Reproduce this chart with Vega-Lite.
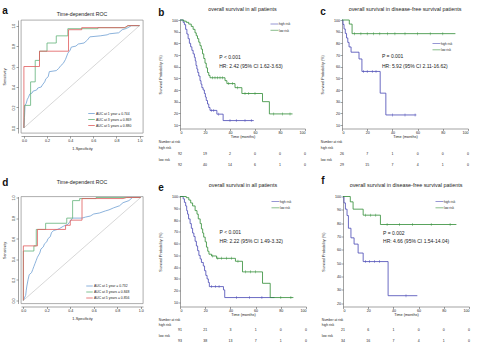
{
  "$schema": "https://vega.github.io/schema/vega-lite/v6.json",
  "background": "white",
  "padding": {"left": 2, "top": 5, "right": 1, "bottom": 0},
  "config": {
    "font": "Liberation Sans",
    "view": {"stroke": null},
    "axis": {"labelFontSize": 3.6, "titleFontSize": 3.8, "titleFontWeight": "normal", "labelColor": "#222", "titleColor": "#222", "domainColor": "#444", "tickColor": "#444", "domainWidth": 0.5, "tickWidth": 0.5, "tickSize": 2, "labelPadding": 0.5, "grid": false},
    "title": {"fontSize": 5.4, "fontWeight": "normal", "color": "#222"},
    "legend": {"labelFontSize": 3, "labelColor": "#222", "symbolStrokeWidth": 0.8, "rowPadding": 1.3, "padding": 0, "labelOffset": 2, "labelLimit": 0},
    "text": {"color": "#222"}
  },
  "datasets": {
    "km": [
      {"panel":"b","group":"high risk","t":0,"s":100},{"panel":"b","group":"high risk","t":2.5,"s":98},{"panel":"b","group":"high risk","t":3.5,"s":96},{"panel":"b","group":"high risk","t":4.5,"s":92},{"panel":"b","group":"high risk","t":5.5,"s":88},{"panel":"b","group":"high risk","t":6.5,"s":84},{"panel":"b","group":"high risk","t":7.5,"s":80},{"panel":"b","group":"high risk","t":8.5,"s":77},{"panel":"b","group":"high risk","t":9.5,"s":74},{"panel":"b","group":"high risk","t":10.5,"s":71},{"panel":"b","group":"high risk","t":11.5,"s":68},{"panel":"b","group":"high risk","t":12.2,"s":65},{"panel":"b","group":"high risk","t":12.8,"s":61},{"panel":"b","group":"high risk","t":13.5,"s":58},{"panel":"b","group":"high risk","t":14.2,"s":55},{"panel":"b","group":"high risk","t":15,"s":52},{"panel":"b","group":"high risk","t":16,"s":48},{"panel":"b","group":"high risk","t":16.8,"s":45},{"panel":"b","group":"high risk","t":17.5,"s":42},{"panel":"b","group":"high risk","t":18.5,"s":40},{"panel":"b","group":"high risk","t":19.5,"s":37},{"panel":"b","group":"high risk","t":20.3,"s":34},{"panel":"b","group":"high risk","t":21,"s":31},{"panel":"b","group":"high risk","t":22,"s":28},{"panel":"b","group":"high risk","t":23,"s":25},{"panel":"b","group":"high risk","t":24,"s":22.5},{"panel":"b","group":"high risk","t":29.5,"s":19.3},{"panel":"b","group":"high risk","t":34.5,"s":13.8},{"panel":"b","group":"high risk","t":59,"s":13.8},
      {"panel":"b","group":"low risk","t":0,"s":100},{"panel":"b","group":"low risk","t":3,"s":99},{"panel":"b","group":"low risk","t":5,"s":98},{"panel":"b","group":"low risk","t":7,"s":96.5},{"panel":"b","group":"low risk","t":9,"s":94.5},{"panel":"b","group":"low risk","t":10.5,"s":92},{"panel":"b","group":"low risk","t":12,"s":89},{"panel":"b","group":"low risk","t":13,"s":86.5},{"panel":"b","group":"low risk","t":14,"s":84},{"panel":"b","group":"low risk","t":15,"s":81},{"panel":"b","group":"low risk","t":16,"s":78},{"panel":"b","group":"low risk","t":17,"s":75},{"panel":"b","group":"low risk","t":18,"s":71},{"panel":"b","group":"low risk","t":19,"s":67},{"panel":"b","group":"low risk","t":20,"s":63},{"panel":"b","group":"low risk","t":21,"s":59},{"panel":"b","group":"low risk","t":22,"s":55},{"panel":"b","group":"low risk","t":23,"s":52.5},{"panel":"b","group":"low risk","t":24,"s":50.5},{"panel":"b","group":"low risk","t":36,"s":48},{"panel":"b","group":"low risk","t":37.5,"s":45.5},{"panel":"b","group":"low risk","t":44,"s":42},{"panel":"b","group":"low risk","t":49.5,"s":37},{"panel":"b","group":"low risk","t":66,"s":30},{"panel":"b","group":"low risk","t":71.5,"s":19.5},{"panel":"b","group":"low risk","t":90,"s":19.5},
      {"panel":"c","group":"high risk","t":0,"s":100},{"panel":"c","group":"high risk","t":0.8,"s":96.2},{"panel":"c","group":"high risk","t":1.6,"s":92.3},{"panel":"c","group":"high risk","t":2.6,"s":88.5},{"panel":"c","group":"high risk","t":3.6,"s":84.6},{"panel":"c","group":"high risk","t":4.6,"s":80.8},{"panel":"c","group":"high risk","t":5.6,"s":76.9},{"panel":"c","group":"high risk","t":7.2,"s":72.4},{"panel":"c","group":"high risk","t":13.5,"s":66.6},{"panel":"c","group":"high risk","t":15.8,"s":55.9},{"panel":"c","group":"high risk","t":30.3,"s":37.3},{"panel":"c","group":"high risk","t":34.8,"s":18.6},{"panel":"c","group":"high risk","t":59,"s":18.6},
      {"panel":"c","group":"low risk","t":0,"s":100},{"panel":"c","group":"low risk","t":5.8,"s":96.5},{"panel":"c","group":"low risk","t":8,"s":88.3},{"panel":"c","group":"low risk","t":90,"s":88.3},
      {"panel":"e","group":"high risk","t":0,"s":100},{"panel":"e","group":"high risk","t":2.5,"s":98},{"panel":"e","group":"high risk","t":3.5,"s":95},{"panel":"e","group":"high risk","t":4.5,"s":92},{"panel":"e","group":"high risk","t":5.3,"s":88},{"panel":"e","group":"high risk","t":6,"s":85},{"panel":"e","group":"high risk","t":6.8,"s":81},{"panel":"e","group":"high risk","t":8,"s":77},{"panel":"e","group":"high risk","t":9,"s":73},{"panel":"e","group":"high risk","t":10,"s":69},{"panel":"e","group":"high risk","t":11,"s":66},{"panel":"e","group":"high risk","t":12,"s":62},{"panel":"e","group":"high risk","t":13,"s":58},{"panel":"e","group":"high risk","t":14,"s":54},{"panel":"e","group":"high risk","t":15,"s":50},{"panel":"e","group":"high risk","t":16,"s":47},{"panel":"e","group":"high risk","t":17,"s":44},{"panel":"e","group":"high risk","t":18.5,"s":41},{"panel":"e","group":"high risk","t":19.5,"s":37},{"panel":"e","group":"high risk","t":20.5,"s":33},{"panel":"e","group":"high risk","t":21.5,"s":30},{"panel":"e","group":"high risk","t":22.5,"s":27},{"panel":"e","group":"high risk","t":23.3,"s":23.5},{"panel":"e","group":"high risk","t":34.5,"s":20.7},{"panel":"e","group":"high risk","t":35.5,"s":14.2},{"panel":"e","group":"high risk","t":75,"s":14.2},
      {"panel":"e","group":"low risk","t":0,"s":100},{"panel":"e","group":"low risk","t":5,"s":99},{"panel":"e","group":"low risk","t":7,"s":97},{"panel":"e","group":"low risk","t":8.5,"s":94.5},{"panel":"e","group":"low risk","t":10,"s":92},{"panel":"e","group":"low risk","t":12,"s":88},{"panel":"e","group":"low risk","t":13.5,"s":85},{"panel":"e","group":"low risk","t":14.5,"s":81},{"panel":"e","group":"low risk","t":16,"s":77},{"panel":"e","group":"low risk","t":17,"s":72.5},{"panel":"e","group":"low risk","t":18,"s":69},{"panel":"e","group":"low risk","t":18.8,"s":65.5},{"panel":"e","group":"low risk","t":20,"s":61.5},{"panel":"e","group":"low risk","t":21,"s":57},{"panel":"e","group":"low risk","t":22,"s":53.5},{"panel":"e","group":"low risk","t":23,"s":51},{"panel":"e","group":"low risk","t":25,"s":49.5},{"panel":"e","group":"low risk","t":29,"s":47.5},{"panel":"e","group":"low risk","t":44,"s":45},{"panel":"e","group":"low risk","t":49.6,"s":36},{"panel":"e","group":"low risk","t":65.5,"s":26.3},{"panel":"e","group":"low risk","t":71.6,"s":14.2},{"panel":"e","group":"low risk","t":90,"s":14.2},
      {"panel":"f","group":"high risk","t":0,"s":100},{"panel":"f","group":"high risk","t":0.8,"s":95.2},{"panel":"f","group":"high risk","t":1.9,"s":90.5},{"panel":"f","group":"high risk","t":3.2,"s":85.7},{"panel":"f","group":"high risk","t":4.3,"s":76.2},{"panel":"f","group":"high risk","t":6.3,"s":69},{"panel":"f","group":"high risk","t":8.8,"s":64.3},{"panel":"f","group":"high risk","t":12,"s":57.6},{"panel":"f","group":"high risk","t":16,"s":51.2},{"panel":"f","group":"high risk","t":35.8,"s":25.6},{"panel":"f","group":"high risk","t":59,"s":25.6},
      {"panel":"f","group":"low risk","t":0,"s":100},{"panel":"f","group":"low risk","t":5.8,"s":96},{"panel":"f","group":"low risk","t":8,"s":90.5},{"panel":"f","group":"low risk","t":16,"s":86},{"panel":"f","group":"low risk","t":29.7,"s":79},{"panel":"f","group":"low risk","t":90,"s":79}
    ],
    "censor": [
      {"panel":"b","group":"high risk","t":25,"s":22.5},{"panel":"b","group":"high risk","t":27,"s":22.5},{"panel":"b","group":"high risk","t":31,"s":19.3},{"panel":"b","group":"high risk","t":40,"s":13.8},{"panel":"b","group":"high risk","t":45,"s":13.8},{"panel":"b","group":"high risk","t":52,"s":13.8},{"panel":"b","group":"high risk","t":57,"s":13.8},
      {"panel":"b","group":"low risk","t":26,"s":50.5},{"panel":"b","group":"low risk","t":28,"s":50.5},{"panel":"b","group":"low risk","t":30,"s":50.5},{"panel":"b","group":"low risk","t":32,"s":50.5},{"panel":"b","group":"low risk","t":34,"s":50.5},{"panel":"b","group":"low risk","t":39,"s":45.5},{"panel":"b","group":"low risk","t":42,"s":45.5},{"panel":"b","group":"low risk","t":46,"s":42},{"panel":"b","group":"low risk","t":52,"s":37},{"panel":"b","group":"low risk","t":55,"s":37},{"panel":"b","group":"low risk","t":60,"s":37},{"panel":"b","group":"low risk","t":75,"s":19.5},{"panel":"b","group":"low risk","t":82,"s":19.5},{"panel":"b","group":"low risk","t":88,"s":19.5},
      {"panel":"c","group":"high risk","t":17,"s":55.9},{"panel":"c","group":"high risk","t":20,"s":55.9},{"panel":"c","group":"high risk","t":24,"s":55.9},{"panel":"c","group":"high risk","t":27,"s":55.9},{"panel":"c","group":"high risk","t":40,"s":18.6},{"panel":"c","group":"high risk","t":50,"s":18.6},{"panel":"c","group":"high risk","t":58,"s":18.6},
      {"panel":"c","group":"low risk","t":10,"s":88.3},{"panel":"c","group":"low risk","t":15,"s":88.3},{"panel":"c","group":"low risk","t":20,"s":88.3},{"panel":"c","group":"low risk","t":25,"s":88.3},{"panel":"c","group":"low risk","t":30,"s":88.3},{"panel":"c","group":"low risk","t":36,"s":88.3},{"panel":"c","group":"low risk","t":42,"s":88.3},{"panel":"c","group":"low risk","t":50,"s":88.3},{"panel":"c","group":"low risk","t":60,"s":88.3},{"panel":"c","group":"low risk","t":70,"s":88.3},{"panel":"c","group":"low risk","t":80,"s":88.3},
      {"panel":"e","group":"high risk","t":25,"s":23.5},{"panel":"e","group":"high risk","t":28,"s":23.5},{"panel":"e","group":"high risk","t":31,"s":23.5},{"panel":"e","group":"high risk","t":45,"s":14.2},{"panel":"e","group":"high risk","t":55,"s":14.2},{"panel":"e","group":"high risk","t":65,"s":14.2},
      {"panel":"e","group":"low risk","t":26,"s":49.5},{"panel":"e","group":"low risk","t":30,"s":47.5},{"panel":"e","group":"low risk","t":33,"s":47.5},{"panel":"e","group":"low risk","t":37,"s":47.5},{"panel":"e","group":"low risk","t":41,"s":47.5},{"panel":"e","group":"low risk","t":46,"s":45},{"panel":"e","group":"low risk","t":52,"s":36},{"panel":"e","group":"low risk","t":56,"s":36},{"panel":"e","group":"low risk","t":60,"s":36},{"panel":"e","group":"low risk","t":80,"s":14.2},{"panel":"e","group":"low risk","t":88,"s":14.2},
      {"panel":"f","group":"high risk","t":18,"s":51.2},{"panel":"f","group":"high risk","t":21,"s":51.2},{"panel":"f","group":"high risk","t":25,"s":51.2},{"panel":"f","group":"high risk","t":29,"s":51.2},{"panel":"f","group":"high risk","t":50,"s":25.6},
      {"panel":"f","group":"low risk","t":18,"s":86},{"panel":"f","group":"low risk","t":22,"s":86},{"panel":"f","group":"low risk","t":26,"s":86},{"panel":"f","group":"low risk","t":35,"s":79},{"panel":"f","group":"low risk","t":45,"s":79},{"panel":"f","group":"low risk","t":55,"s":79},{"panel":"f","group":"low risk","t":70,"s":79},{"panel":"f","group":"low risk","t":85,"s":79}
    ],
    "roc": [
      {"panel":"a","year":1,"fpr":0,"tpr":0},{"panel":"a","year":1,"fpr":0.005,"tpr":0.1},{"panel":"a","year":1,"fpr":0.01,"tpr":0.22},{"panel":"a","year":1,"fpr":0.02,"tpr":0.24},{"panel":"a","year":1,"fpr":0.03,"tpr":0.28},{"panel":"a","year":1,"fpr":0.04,"tpr":0.3},{"panel":"a","year":1,"fpr":0.05,"tpr":0.33},{"panel":"a","year":1,"fpr":0.07,"tpr":0.34},{"panel":"a","year":1,"fpr":0.08,"tpr":0.36},{"panel":"a","year":1,"fpr":0.11,"tpr":0.37},{"panel":"a","year":1,"fpr":0.12,"tpr":0.39},{"panel":"a","year":1,"fpr":0.15,"tpr":0.4},{"panel":"a","year":1,"fpr":0.16,"tpr":0.42},{"panel":"a","year":1,"fpr":0.18,"tpr":0.45},{"panel":"a","year":1,"fpr":0.19,"tpr":0.48},{"panel":"a","year":1,"fpr":0.21,"tpr":0.5},{"panel":"a","year":1,"fpr":0.22,"tpr":0.55},{"panel":"a","year":1,"fpr":0.28,"tpr":0.56},{"panel":"a","year":1,"fpr":0.3,"tpr":0.58},{"panel":"a","year":1,"fpr":0.32,"tpr":0.61},{"panel":"a","year":1,"fpr":0.34,"tpr":0.63},{"panel":"a","year":1,"fpr":0.36,"tpr":0.67},{"panel":"a","year":1,"fpr":0.38,"tpr":0.73},{"panel":"a","year":1,"fpr":0.4,"tpr":0.76},{"panel":"a","year":1,"fpr":0.41,"tpr":0.79},{"panel":"a","year":1,"fpr":0.45,"tpr":0.8},{"panel":"a","year":1,"fpr":0.47,"tpr":0.82},{"panel":"a","year":1,"fpr":0.52,"tpr":0.83},{"panel":"a","year":1,"fpr":0.55,"tpr":0.86},{"panel":"a","year":1,"fpr":0.57,"tpr":0.89},{"panel":"a","year":1,"fpr":0.66,"tpr":0.9},{"panel":"a","year":1,"fpr":0.72,"tpr":0.91},{"panel":"a","year":1,"fpr":0.74,"tpr":0.92},{"panel":"a","year":1,"fpr":0.82,"tpr":0.93},{"panel":"a","year":1,"fpr":0.85,"tpr":0.96},{"panel":"a","year":1,"fpr":0.88,"tpr":0.97},{"panel":"a","year":1,"fpr":0.9,"tpr":0.98},{"panel":"a","year":1,"fpr":0.93,"tpr":1},{"panel":"a","year":1,"fpr":1,"tpr":1},
      {"panel":"a","year":3,"fpr":0,"tpr":0},{"panel":"a","year":3,"fpr":0.005,"tpr":0.22},{"panel":"a","year":3,"fpr":0.058,"tpr":0.22},{"panel":"a","year":3,"fpr":0.058,"tpr":0.45},{"panel":"a","year":3,"fpr":0.098,"tpr":0.45},{"panel":"a","year":3,"fpr":0.098,"tpr":0.66},{"panel":"a","year":3,"fpr":0.135,"tpr":0.66},{"panel":"a","year":3,"fpr":0.135,"tpr":0.75},{"panel":"a","year":3,"fpr":0.2,"tpr":0.75},{"panel":"a","year":3,"fpr":0.2,"tpr":0.83},{"panel":"a","year":3,"fpr":0.28,"tpr":0.83},{"panel":"a","year":3,"fpr":0.28,"tpr":0.9},{"panel":"a","year":3,"fpr":0.38,"tpr":0.9},{"panel":"a","year":3,"fpr":0.38,"tpr":0.97},{"panel":"a","year":3,"fpr":0.64,"tpr":0.97},{"panel":"a","year":3,"fpr":0.64,"tpr":0.98},{"panel":"a","year":3,"fpr":0.88,"tpr":0.98},{"panel":"a","year":3,"fpr":0.9,"tpr":1},{"panel":"a","year":3,"fpr":1,"tpr":1},
      {"panel":"a","year":5,"fpr":0,"tpr":0},{"panel":"a","year":5,"fpr":0,"tpr":0.6},{"panel":"a","year":5,"fpr":0.135,"tpr":0.6},{"panel":"a","year":5,"fpr":0.135,"tpr":0.75},{"panel":"a","year":5,"fpr":0.386,"tpr":0.75},{"panel":"a","year":5,"fpr":0.386,"tpr":0.96},{"panel":"a","year":5,"fpr":0.5,"tpr":0.96},{"panel":"a","year":5,"fpr":0.5,"tpr":0.98},{"panel":"a","year":5,"fpr":0.87,"tpr":0.98},{"panel":"a","year":5,"fpr":0.9,"tpr":1},{"panel":"a","year":5,"fpr":1,"tpr":1},
      {"panel":"d","year":1,"fpr":0,"tpr":0},{"panel":"d","year":1,"fpr":0.02,"tpr":0.05},{"panel":"d","year":1,"fpr":0.025,"tpr":0.1},{"panel":"d","year":1,"fpr":0.03,"tpr":0.14},{"panel":"d","year":1,"fpr":0.04,"tpr":0.2},{"panel":"d","year":1,"fpr":0.05,"tpr":0.25},{"panel":"d","year":1,"fpr":0.07,"tpr":0.27},{"panel":"d","year":1,"fpr":0.08,"tpr":0.3},{"panel":"d","year":1,"fpr":0.09,"tpr":0.33},{"panel":"d","year":1,"fpr":0.1,"tpr":0.36},{"panel":"d","year":1,"fpr":0.11,"tpr":0.39},{"panel":"d","year":1,"fpr":0.12,"tpr":0.42},{"panel":"d","year":1,"fpr":0.14,"tpr":0.46},{"panel":"d","year":1,"fpr":0.15,"tpr":0.5},{"panel":"d","year":1,"fpr":0.17,"tpr":0.52},{"panel":"d","year":1,"fpr":0.18,"tpr":0.55},{"panel":"d","year":1,"fpr":0.2,"tpr":0.57},{"panel":"d","year":1,"fpr":0.21,"tpr":0.6},{"panel":"d","year":1,"fpr":0.23,"tpr":0.62},{"panel":"d","year":1,"fpr":0.24,"tpr":0.66},{"panel":"d","year":1,"fpr":0.26,"tpr":0.68},{"panel":"d","year":1,"fpr":0.29,"tpr":0.69},{"panel":"d","year":1,"fpr":0.31,"tpr":0.7},{"panel":"d","year":1,"fpr":0.34,"tpr":0.72},{"panel":"d","year":1,"fpr":0.38,"tpr":0.74},{"panel":"d","year":1,"fpr":0.4,"tpr":0.77},{"panel":"d","year":1,"fpr":0.42,"tpr":0.8},{"panel":"d","year":1,"fpr":0.5,"tpr":0.8},{"panel":"d","year":1,"fpr":0.53,"tpr":0.81},{"panel":"d","year":1,"fpr":0.57,"tpr":0.82},{"panel":"d","year":1,"fpr":0.6,"tpr":0.84},{"panel":"d","year":1,"fpr":0.65,"tpr":0.85},{"panel":"d","year":1,"fpr":0.7,"tpr":0.87},{"panel":"d","year":1,"fpr":0.73,"tpr":0.88},{"panel":"d","year":1,"fpr":0.77,"tpr":0.9},{"panel":"d","year":1,"fpr":0.82,"tpr":0.92},{"panel":"d","year":1,"fpr":0.85,"tpr":0.95},{"panel":"d","year":1,"fpr":0.9,"tpr":0.97},{"panel":"d","year":1,"fpr":0.93,"tpr":1},{"panel":"d","year":1,"fpr":1,"tpr":1},
      {"panel":"d","year":3,"fpr":0,"tpr":0},{"panel":"d","year":3,"fpr":0,"tpr":0.48},{"panel":"d","year":3,"fpr":0.09,"tpr":0.48},{"panel":"d","year":3,"fpr":0.09,"tpr":0.53},{"panel":"d","year":3,"fpr":0.11,"tpr":0.53},{"panel":"d","year":3,"fpr":0.11,"tpr":0.69},{"panel":"d","year":3,"fpr":0.19,"tpr":0.69},{"panel":"d","year":3,"fpr":0.19,"tpr":0.75},{"panel":"d","year":3,"fpr":0.37,"tpr":0.75},{"panel":"d","year":3,"fpr":0.37,"tpr":0.8},{"panel":"d","year":3,"fpr":0.42,"tpr":0.8},{"panel":"d","year":3,"fpr":0.42,"tpr":0.97},{"panel":"d","year":3,"fpr":0.48,"tpr":0.97},{"panel":"d","year":3,"fpr":0.48,"tpr":0.99},{"panel":"d","year":3,"fpr":0.62,"tpr":0.99},{"panel":"d","year":3,"fpr":0.62,"tpr":1},{"panel":"d","year":3,"fpr":1,"tpr":1},
      {"panel":"d","year":5,"fpr":0,"tpr":0},{"panel":"d","year":5,"fpr":0,"tpr":0.53},{"panel":"d","year":5,"fpr":0.12,"tpr":0.53},{"panel":"d","year":5,"fpr":0.12,"tpr":0.69},{"panel":"d","year":5,"fpr":0.36,"tpr":0.69},{"panel":"d","year":5,"fpr":0.36,"tpr":0.73},{"panel":"d","year":5,"fpr":0.4,"tpr":0.73},{"panel":"d","year":5,"fpr":0.4,"tpr":0.78},{"panel":"d","year":5,"fpr":0.5,"tpr":0.78},{"panel":"d","year":5,"fpr":0.5,"tpr":0.99},{"panel":"d","year":5,"fpr":0.85,"tpr":0.99},{"panel":"d","year":5,"fpr":0.88,"tpr":1},{"panel":"d","year":5,"fpr":1,"tpr":1}
    ],
    "risk": [
      {"panel":"b","group":"high risk","t":0,"n":92},{"panel":"b","group":"high risk","t":20,"n":19},{"panel":"b","group":"high risk","t":40,"n":2},{"panel":"b","group":"high risk","t":60,"n":0},{"panel":"b","group":"high risk","t":80,"n":0},{"panel":"b","group":"high risk","t":100,"n":0},
      {"panel":"b","group":"low risk","t":0,"n":92},{"panel":"b","group":"low risk","t":20,"n":40},{"panel":"b","group":"low risk","t":40,"n":14},{"panel":"b","group":"low risk","t":60,"n":6},{"panel":"b","group":"low risk","t":80,"n":1},{"panel":"b","group":"low risk","t":100,"n":0},
      {"panel":"c","group":"high risk","t":0,"n":26},{"panel":"c","group":"high risk","t":20,"n":7},{"panel":"c","group":"high risk","t":40,"n":1},{"panel":"c","group":"high risk","t":60,"n":0},{"panel":"c","group":"high risk","t":80,"n":0},{"panel":"c","group":"high risk","t":100,"n":0},
      {"panel":"c","group":"low risk","t":0,"n":29},{"panel":"c","group":"low risk","t":20,"n":15},{"panel":"c","group":"low risk","t":40,"n":7},{"panel":"c","group":"low risk","t":60,"n":4},{"panel":"c","group":"low risk","t":80,"n":1},{"panel":"c","group":"low risk","t":100,"n":0},
      {"panel":"e","group":"high risk","t":0,"n":91},{"panel":"e","group":"high risk","t":20,"n":21},{"panel":"e","group":"high risk","t":40,"n":3},{"panel":"e","group":"high risk","t":60,"n":1},{"panel":"e","group":"high risk","t":80,"n":0},{"panel":"e","group":"high risk","t":100,"n":0},
      {"panel":"e","group":"low risk","t":0,"n":93},{"panel":"e","group":"low risk","t":20,"n":38},{"panel":"e","group":"low risk","t":40,"n":13},{"panel":"e","group":"low risk","t":60,"n":7},{"panel":"e","group":"low risk","t":80,"n":1},{"panel":"e","group":"low risk","t":100,"n":0},
      {"panel":"f","group":"high risk","t":0,"n":21},{"panel":"f","group":"high risk","t":20,"n":6},{"panel":"f","group":"high risk","t":40,"n":1},{"panel":"f","group":"high risk","t":60,"n":0},{"panel":"f","group":"high risk","t":80,"n":0},{"panel":"f","group":"high risk","t":100,"n":0},
      {"panel":"f","group":"low risk","t":0,"n":34},{"panel":"f","group":"low risk","t":20,"n":16},{"panel":"f","group":"low risk","t":40,"n":7},{"panel":"f","group":"low risk","t":60,"n":4},{"panel":"f","group":"low risk","t":80,"n":1},{"panel":"f","group":"low risk","t":100,"n":0}
    ]
  },
  "resolve": {"scale": {"color": "independent"}, "legend": {"color": "independent"}},
  "spacing": 7.5,
  "vconcat": [
    {
      "spacing": 14,
      "resolve": {"scale": {"color": "independent"}, "legend": {"color": "independent"}},
      "hconcat": [
        {
          "title": {"text": "a", "anchor": "start", "fontSize": 10, "fontWeight": "bold", "color": "#111", "offset": -4.3},
          "vconcat": [
            {
              "width": 122, "height": 113,
              "title": {"text": "Time-dependent ROC", "fontSize": 5.2, "offset": 3.3},
              "view": {"stroke": "#777", "strokeWidth": 0.6},
              "encoding": {
                "x": {"field": "fpr", "type": "quantitative", "scale": {"domain": [-0.025, 1.03], "nice": false, "zero": false}, "axis": {"title": "1-Specificity", "values": [0, 0.2, 0.4, 0.6, 0.8, 1], "format": ".1f", "offset": 3, "labelPadding": 0, "titlePadding": 4.5}},
                "y": {"field": "tpr", "type": "quantitative", "scale": {"domain": [-0.05, 1.055], "nice": false, "zero": false}, "axis": {"title": "Sensitivity", "values": [0, 0.2, 0.4, 0.6, 0.8, 1], "format": ".1f", "offset": 3, "labelAngle": 270, "labelPadding": 0.5, "titlePadding": 5}}
              },
              "layer": [
                {"data": {"values": [{"fpr": 0, "tpr": 0}, {"fpr": 1, "tpr": 1}]}, "mark": {"type": "line", "color": "#9a9a9a", "strokeWidth": 0.4}, "encoding": {}},
                {
                  "data": {"name": "roc"}, "transform": [{"filter": "datum.panel == 'a'"}],
                  "mark": {"type": "line", "strokeWidth": 0.8},
                  "encoding": {
                    "color": {"field": "year", "type": "nominal", "scale": {"domain": [1, 3, 5], "range": ["#6f9fd3", "#62b27a", "#e05a5c"]},
                      "legend": {"title": null, "orient": "none", "legendX": 68, "legendY": 91, "symbolType": "M-2,0H2", "symbolSize": 10.6, "labelFontSize": 3.4, "rowPadding": 1, "labelExpr": "datum.value == 1 ? 'AUC at 1 year = 0.744' : datum.value == 3 ? 'AUC at 3 years = 0.869' : 'AUC at 5 years = 0.880'"}},
                    "order": {"value": null}
                  }
                }
              ]
            }
          ]
        },
        {
          "title": {"text": "b", "anchor": "start", "fontSize": 10, "fontWeight": "bold", "color": "#111", "offset": -10.5},
          "spacing": 0,
          "vconcat": [
            {
              "width": 125, "height": 108.5,
              "title": {"text": "overall survival in all patients", "offset": 5.5},
              "layer": [
                {
                  "data": {"name": "km"}, "transform": [{"filter": "datum.panel == 'b'"}],
                  "mark": {"type": "line", "interpolate": "step-after", "strokeWidth": 0.8},
                  "encoding": {
                    "x": {"field": "t", "type": "quantitative", "scale": {"domain": [0, 100], "nice": false}, "axis": {"title": "Time (months)", "values": [0, 20, 40, 60, 80, 100], "labelPadding": 0, "titlePadding": 0.3}},
                    "y": {"field": "s", "type": "quantitative", "scale": {"domain": [7, 100], "nice": false, "zero": false}, "axis": {"title": "Survival Probability (%)", "values": [10, 20, 30, 40, 50, 60, 70, 80, 90, 100], "titlePadding": 9}},
                    "color": {"field": "group", "type": "nominal", "scale": {"domain": ["high risk", "low risk"], "range": ["#4646b4", "#2e8b34"]}, "legend": {"title": null, "orient": "none", "legendX": 92, "legendY": 1.5, "symbolType": "M-2,0H2", "symbolSize": 16}}
                  }
                },
                {
                  "data": {"name": "censor"}, "transform": [{"filter": "datum.panel == 'b'"}],
                  "mark": {"type": "tick", "orient": "vertical", "size": 3, "thickness": 0.6},
                  "encoding": {
                    "x": {"field": "t", "type": "quantitative", "scale": {"domain": [0, 100], "nice": false}, "axis": {"title": "Time (months)", "values": [0, 20, 40, 60, 80, 100], "labelPadding": 0, "titlePadding": 0.3}},
                    "y": {"field": "s", "type": "quantitative", "scale": {"domain": [7, 100], "nice": false, "zero": false}, "axis": {"title": "Survival Probability (%)", "values": [10, 20, 30, 40, 50, 60, 70, 80, 90, 100], "titlePadding": 9}},
                    "color": {"field": "group", "type": "nominal"}
                  }
                },
                {"data": {"values": [{}]}, "mark": {"type": "text", "align": "left", "baseline": "middle", "fontSize": 5},
                  "encoding": {
                    "x": {"datum": 31.4, "type": "quantitative", "scale": {"domain": [0, 100], "nice": false}, "axis": {"title": "Time (months)", "values": [0, 20, 40, 60, 80, 100], "labelPadding": 0, "titlePadding": 0.3}},
                    "y": {"datum": 68.6, "type": "quantitative", "scale": {"domain": [7, 100], "nice": false, "zero": false}, "axis": {"title": "Survival Probability (%)", "values": [10, 20, 30, 40, 50, 60, 70, 80, 90, 100], "titlePadding": 9}},
                    "text": {"value": "P < 0.001"}}},
                {"data": {"values": [{}]}, "mark": {"type": "text", "align": "left", "baseline": "middle", "fontSize": 5},
                  "encoding": {
                    "x": {"datum": 31.4, "type": "quantitative", "scale": {"domain": [0, 100], "nice": false}, "axis": {"title": "Time (months)", "values": [0, 20, 40, 60, 80, 100], "labelPadding": 0, "titlePadding": 0.3}},
                    "y": {"datum": 60.8, "type": "quantitative", "scale": {"domain": [7, 100], "nice": false, "zero": false}, "axis": {"title": "Survival Probability (%)", "values": [10, 20, 30, 40, 50, 60, 70, 80, 90, 100], "titlePadding": 9}},
                    "text": {"value": "HR: 2.42 (95% CI 1.62-3.63)"}}}
              ]
            },
            {
              "width": 125, "height": 29,
              "data": {"name": "risk"}, "transform": [{"filter": "datum.panel == 'b'"}],
              "mark": {"type": "text", "fontSize": 3.5, "baseline": "middle"},
              "encoding": {
                "x": {"field": "t", "type": "quantitative", "scale": {"domain": [0, 100], "nice": false}, "axis": null},
                "y": {"field": "group", "type": "ordinal", "scale": {"domain": ["Number at risk", "high risk ", "high risk", "low risk ", "low risk"], "padding": 0.5}, "axis": {"title": null, "domain": false, "ticks": false, "labelAlign": "left", "labelPadding": 21.7, "labelFontSize": 3.3, "labelExpr": "datum.value == 'high risk' || datum.value == 'low risk' ? '' : datum.value"}},
                "text": {"field": "n", "type": "quantitative"}
              }
            }
          ]
        },
        {
          "title": {"text": "c", "anchor": "start", "fontSize": 10, "fontWeight": "bold", "color": "#111", "offset": -9.7},
          "spacing": 0,
          "vconcat": [
            {
              "width": 126, "height": 108.5,
              "title": {"text": "overall survival in disease-free survival patients", "offset": 5.5},
              "layer": [
                {
                  "data": {"name": "km"}, "transform": [{"filter": "datum.panel == 'c'"}],
                  "mark": {"type": "line", "interpolate": "step-after", "strokeWidth": 0.8},
                  "encoding": {
                    "x": {"field": "t", "type": "quantitative", "scale": {"domain": [0, 100], "nice": false}, "axis": {"title": "Time (months)", "values": [0, 20, 40, 60, 80, 100], "labelPadding": 0, "titlePadding": 0.3}},
                    "y": {"field": "s", "type": "quantitative", "scale": {"domain": [7, 100], "nice": false, "zero": false}, "axis": {"title": "Survival Probability (%)", "values": [10, 20, 30, 40, 50, 60, 70, 80, 90, 100], "titlePadding": 9}},
                    "color": {"field": "group", "type": "nominal", "scale": {"domain": ["high risk", "low risk"], "range": ["#4646b4", "#2e8b34"]}, "legend": {"title": null, "orient": "none", "legendX": 92, "legendY": 21, "symbolType": "M-2,0H2", "symbolSize": 16}}
                  }
                },
                {
                  "data": {"name": "censor"}, "transform": [{"filter": "datum.panel == 'c'"}],
                  "mark": {"type": "tick", "orient": "vertical", "size": 3, "thickness": 0.6},
                  "encoding": {
                    "x": {"field": "t", "type": "quantitative", "scale": {"domain": [0, 100], "nice": false}, "axis": {"title": "Time (months)", "values": [0, 20, 40, 60, 80, 100], "labelPadding": 0, "titlePadding": 0.3}},
                    "y": {"field": "s", "type": "quantitative", "scale": {"domain": [7, 100], "nice": false, "zero": false}, "axis": {"title": "Survival Probability (%)", "values": [10, 20, 30, 40, 50, 60, 70, 80, 90, 100], "titlePadding": 9}},
                    "color": {"field": "group", "type": "nominal"}
                  }
                },
                {"data": {"values": [{}]}, "mark": {"type": "text", "align": "left", "baseline": "middle", "fontSize": 5},
                  "encoding": {
                    "x": {"datum": 31.7, "type": "quantitative", "scale": {"domain": [0, 100], "nice": false}, "axis": {"title": "Time (months)", "values": [0, 20, 40, 60, 80, 100], "labelPadding": 0, "titlePadding": 0.3}},
                    "y": {"datum": 68.9, "type": "quantitative", "scale": {"domain": [7, 100], "nice": false, "zero": false}, "axis": {"title": "Survival Probability (%)", "values": [10, 20, 30, 40, 50, 60, 70, 80, 90, 100], "titlePadding": 9}},
                    "text": {"value": "P = 0.001"}}},
                {"data": {"values": [{}]}, "mark": {"type": "text", "align": "left", "baseline": "middle", "fontSize": 5},
                  "encoding": {
                    "x": {"datum": 31.7, "type": "quantitative", "scale": {"domain": [0, 100], "nice": false}, "axis": {"title": "Time (months)", "values": [0, 20, 40, 60, 80, 100], "labelPadding": 0, "titlePadding": 0.3}},
                    "y": {"datum": 61, "type": "quantitative", "scale": {"domain": [7, 100], "nice": false, "zero": false}, "axis": {"title": "Survival Probability (%)", "values": [10, 20, 30, 40, 50, 60, 70, 80, 90, 100], "titlePadding": 9}},
                    "text": {"value": "HR: 5.92 (95% CI 2.11-16.62)"}}}
              ]
            },
            {
              "width": 126, "height": 29,
              "data": {"name": "risk"}, "transform": [{"filter": "datum.panel == 'c'"}],
              "mark": {"type": "text", "fontSize": 3.5, "baseline": "middle"},
              "encoding": {
                "x": {"field": "t", "type": "quantitative", "scale": {"domain": [0, 100], "nice": false}, "axis": null},
                "y": {"field": "group", "type": "ordinal", "scale": {"domain": ["Number at risk", "high risk ", "high risk", "low risk ", "low risk"], "padding": 0.5}, "axis": {"title": null, "domain": false, "ticks": false, "labelAlign": "left", "labelPadding": 21.7, "labelFontSize": 3.3, "labelExpr": "datum.value == 'high risk' || datum.value == 'low risk' ? '' : datum.value"}},
                "text": {"field": "n", "type": "quantitative"}
              }
            }
          ]
        }
      ]
    },
    {
      "spacing": 14,
      "resolve": {"scale": {"color": "independent"}, "legend": {"color": "independent"}},
      "hconcat": [
        {
          "title": {"text": "d", "anchor": "start", "fontSize": 10, "fontWeight": "bold", "color": "#111", "offset": -8},
          "vconcat": [
            {
              "width": 122, "height": 107,
              "title": {"text": "Time-dependent ROC", "fontSize": 5.2, "offset": 10},
              "view": {"stroke": "#777", "strokeWidth": 0.6},
              "encoding": {
                "x": {"field": "fpr", "type": "quantitative", "scale": {"domain": [-0.02, 1.02], "nice": false, "zero": false}, "axis": {"title": "1-Specificity", "values": [0, 0.2, 0.4, 0.6, 0.8, 1], "format": ".1f", "offset": 3, "labelPadding": 0, "titlePadding": 4.5}},
                "y": {"field": "tpr", "type": "quantitative", "scale": {"domain": [-0.03, 1.01], "nice": false, "zero": false}, "axis": {"title": "Sensitivity", "values": [0, 0.2, 0.4, 0.6, 0.8, 1], "format": ".1f", "offset": 3, "labelAngle": 270, "labelPadding": 0.5, "titlePadding": 5}}
              },
              "layer": [
                {"data": {"values": [{"fpr": 0, "tpr": 0}, {"fpr": 1, "tpr": 1}]}, "mark": {"type": "line", "color": "#9a9a9a", "strokeWidth": 0.4}, "encoding": {}},
                {
                  "data": {"name": "roc"}, "transform": [{"filter": "datum.panel == 'd'"}],
                  "mark": {"type": "line", "strokeWidth": 0.8},
                  "encoding": {
                    "color": {"field": "year", "type": "nominal", "scale": {"domain": [1, 3, 5], "range": ["#6f9fd3", "#62b27a", "#e05a5c"]},
                      "legend": {"title": null, "orient": "none", "legendX": 66, "legendY": 87, "symbolType": "M-2,0H2", "symbolSize": 10.6, "labelFontSize": 3.4, "rowPadding": 1, "labelExpr": "datum.value == 1 ? 'AUC at 1 year = 0.732' : datum.value == 3 ? 'AUC at 3 years = 0.848' : 'AUC at 5 years = 0.856'"}},
                    "order": {"value": null}
                  }
                }
              ]
            }
          ]
        },
        {
          "title": {"text": "e", "anchor": "start", "fontSize": 10, "fontWeight": "bold", "color": "#111", "offset": -10.3},
          "spacing": 0,
          "vconcat": [
            {
              "width": 126, "height": 110,
              "title": {"text": "overall survival in all patients", "offset": 6},
              "layer": [
                {
                  "data": {"name": "km"}, "transform": [{"filter": "datum.panel == 'e'"}],
                  "mark": {"type": "line", "interpolate": "step-after", "strokeWidth": 0.8},
                  "encoding": {
                    "x": {"field": "t", "type": "quantitative", "scale": {"domain": [0, 100], "nice": false}, "axis": {"title": "Time (months)", "values": [0, 20, 40, 60, 80, 100], "labelPadding": 0, "titlePadding": 0.3}},
                    "y": {"field": "s", "type": "quantitative", "scale": {"domain": [6.6, 100], "nice": false, "zero": false}, "axis": {"title": "Survival Probability (%)", "values": [10, 20, 30, 40, 50, 60, 70, 80, 90, 100], "titlePadding": 9}},
                    "color": {"field": "group", "type": "nominal", "scale": {"domain": ["high risk", "low risk"], "range": ["#4646b4", "#2e8b34"]}, "legend": {"title": null, "orient": "none", "legendX": 93, "legendY": 2.5, "symbolType": "M-2,0H2", "symbolSize": 16}}
                  }
                },
                {
                  "data": {"name": "censor"}, "transform": [{"filter": "datum.panel == 'e'"}],
                  "mark": {"type": "tick", "orient": "vertical", "size": 3, "thickness": 0.6},
                  "encoding": {
                    "x": {"field": "t", "type": "quantitative", "scale": {"domain": [0, 100], "nice": false}, "axis": {"title": "Time (months)", "values": [0, 20, 40, 60, 80, 100], "labelPadding": 0, "titlePadding": 0.3}},
                    "y": {"field": "s", "type": "quantitative", "scale": {"domain": [6.6, 100], "nice": false, "zero": false}, "axis": {"title": "Survival Probability (%)", "values": [10, 20, 30, 40, 50, 60, 70, 80, 90, 100], "titlePadding": 9}},
                    "color": {"field": "group", "type": "nominal"}
                  }
                },
                {"data": {"values": [{}]}, "mark": {"type": "text", "align": "left", "baseline": "middle", "fontSize": 5},
                  "encoding": {
                    "x": {"datum": 31.4, "type": "quantitative", "scale": {"domain": [0, 100], "nice": false}, "axis": {"title": "Time (months)", "values": [0, 20, 40, 60, 80, 100], "labelPadding": 0, "titlePadding": 0.3}},
                    "y": {"datum": 69.9, "type": "quantitative", "scale": {"domain": [6.6, 100], "nice": false, "zero": false}, "axis": {"title": "Survival Probability (%)", "values": [10, 20, 30, 40, 50, 60, 70, 80, 90, 100], "titlePadding": 9}},
                    "text": {"value": "P < 0.001"}}},
                {"data": {"values": [{}]}, "mark": {"type": "text", "align": "left", "baseline": "middle", "fontSize": 5},
                  "encoding": {
                    "x": {"datum": 31.4, "type": "quantitative", "scale": {"domain": [0, 100], "nice": false}, "axis": {"title": "Time (months)", "values": [0, 20, 40, 60, 80, 100], "labelPadding": 0, "titlePadding": 0.3}},
                    "y": {"datum": 62, "type": "quantitative", "scale": {"domain": [6.6, 100], "nice": false, "zero": false}, "axis": {"title": "Survival Probability (%)", "values": [10, 20, 30, 40, 50, 60, 70, 80, 90, 100], "titlePadding": 9}},
                    "text": {"value": "HR: 2.22 (95% CI 1.49-3.32)"}}}
              ]
            },
            {
              "width": 126, "height": 27.5,
              "data": {"name": "risk"}, "transform": [{"filter": "datum.panel == 'e'"}],
              "mark": {"type": "text", "fontSize": 3.5, "baseline": "middle"},
              "encoding": {
                "x": {"field": "t", "type": "quantitative", "scale": {"domain": [0, 100], "nice": false}, "axis": null},
                "y": {"field": "group", "type": "ordinal", "scale": {"domain": ["Number at risk", "high risk ", "high risk", "low risk ", "low risk"], "padding": 0.5}, "axis": {"title": null, "domain": false, "ticks": false, "labelAlign": "left", "labelPadding": 21.7, "labelFontSize": 3.3, "labelExpr": "datum.value == 'high risk' || datum.value == 'low risk' ? '' : datum.value"}},
                "text": {"field": "n", "type": "quantitative"}
              }
            }
          ]
        },
        {
          "title": {"text": "f", "anchor": "start", "fontSize": 10, "fontWeight": "bold", "color": "#111", "offset": -3},
          "spacing": 0,
          "vconcat": [
            {
              "width": 126, "height": 110,
              "title": {"text": "overall survival in disease-free survival patients", "offset": 6},
              "layer": [
                {
                  "data": {"name": "km"}, "transform": [{"filter": "datum.panel == 'f'"}],
                  "mark": {"type": "line", "interpolate": "step-after", "strokeWidth": 0.8},
                  "encoding": {
                    "x": {"field": "t", "type": "quantitative", "scale": {"domain": [0, 100], "nice": false}, "axis": {"title": "Time (months)", "values": [0, 20, 40, 60, 80, 100], "labelPadding": 0, "titlePadding": 0.3}},
                    "y": {"field": "s", "type": "quantitative", "scale": {"domain": [17.5, 100], "nice": false, "zero": false}, "axis": {"title": "Survival Probability (%)", "values": [20, 30, 40, 50, 60, 70, 80, 90, 100], "titlePadding": 9}},
                    "color": {"field": "group", "type": "nominal", "scale": {"domain": ["high risk", "low risk"], "range": ["#4646b4", "#2e8b34"]}, "legend": {"title": null, "orient": "none", "legendX": 94, "legendY": 2.5, "symbolType": "M-2,0H2", "symbolSize": 16}}
                  }
                },
                {
                  "data": {"name": "censor"}, "transform": [{"filter": "datum.panel == 'f'"}],
                  "mark": {"type": "tick", "orient": "vertical", "size": 3, "thickness": 0.6},
                  "encoding": {
                    "x": {"field": "t", "type": "quantitative", "scale": {"domain": [0, 100], "nice": false}, "axis": {"title": "Time (months)", "values": [0, 20, 40, 60, 80, 100], "labelPadding": 0, "titlePadding": 0.3}},
                    "y": {"field": "s", "type": "quantitative", "scale": {"domain": [17.5, 100], "nice": false, "zero": false}, "axis": {"title": "Survival Probability (%)", "values": [20, 30, 40, 50, 60, 70, 80, 90, 100], "titlePadding": 9}},
                    "color": {"field": "group", "type": "nominal"}
                  }
                },
                {"data": {"values": [{}]}, "mark": {"type": "text", "align": "left", "baseline": "middle", "fontSize": 5},
                  "encoding": {
                    "x": {"datum": 31.8, "type": "quantitative", "scale": {"domain": [0, 100], "nice": false}, "axis": {"title": "Time (months)", "values": [0, 20, 40, 60, 80, 100], "labelPadding": 0, "titlePadding": 0.3}},
                    "y": {"datum": 73, "type": "quantitative", "scale": {"domain": [17.5, 100], "nice": false, "zero": false}, "axis": {"title": "Survival Probability (%)", "values": [20, 30, 40, 50, 60, 70, 80, 90, 100], "titlePadding": 9}},
                    "text": {"value": "P = 0.002"}}},
                {"data": {"values": [{}]}, "mark": {"type": "text", "align": "left", "baseline": "middle", "fontSize": 5},
                  "encoding": {
                    "x": {"datum": 31.8, "type": "quantitative", "scale": {"domain": [0, 100], "nice": false}, "axis": {"title": "Time (months)", "values": [0, 20, 40, 60, 80, 100], "labelPadding": 0, "titlePadding": 0.3}},
                    "y": {"datum": 66.5, "type": "quantitative", "scale": {"domain": [17.5, 100], "nice": false, "zero": false}, "axis": {"title": "Survival Probability (%)", "values": [20, 30, 40, 50, 60, 70, 80, 90, 100], "titlePadding": 9}},
                    "text": {"value": "HR: 4.66 (95% CI 1.54-14.04)"}}}
              ]
            },
            {
              "width": 126, "height": 27.5,
              "data": {"name": "risk"}, "transform": [{"filter": "datum.panel == 'f'"}],
              "mark": {"type": "text", "fontSize": 3.5, "baseline": "middle"},
              "encoding": {
                "x": {"field": "t", "type": "quantitative", "scale": {"domain": [0, 100], "nice": false}, "axis": null},
                "y": {"field": "group", "type": "ordinal", "scale": {"domain": ["Number at risk", "high risk ", "high risk", "low risk ", "low risk"], "padding": 0.5}, "axis": {"title": null, "domain": false, "ticks": false, "labelAlign": "left", "labelPadding": 21.7, "labelFontSize": 3.3, "labelExpr": "datum.value == 'high risk' || datum.value == 'low risk' ? '' : datum.value"}},
                "text": {"field": "n", "type": "quantitative"}
              }
            }
          ]
        }
      ]
    }
  ]
}
